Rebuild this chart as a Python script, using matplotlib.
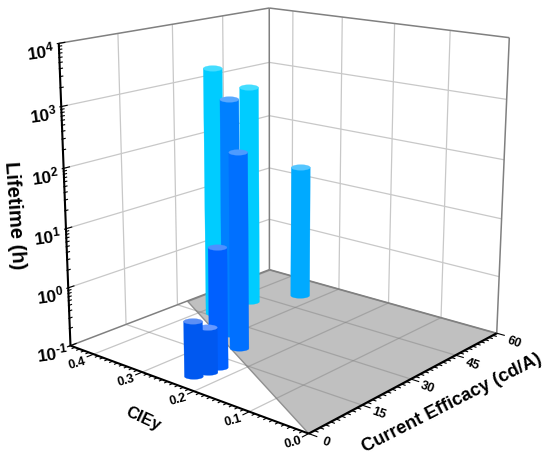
import numpy as np
import matplotlib
matplotlib.use("Agg")
import matplotlib.pyplot as plt
from mpl_toolkits.mplot3d.art3d import Poly3DCollection

# ---- data, back to front ----
ce = [51.5, 31.6, 41.6, 25.0, 20.6, 11.0, 8.0, 4.9]
cie = [0.331, 0.380, 0.374, 0.302, 0.256, 0.231, 0.230, 0.236]
life = [24.47, 2144.22, 772.34, 1030.25, 196.28, 9.61, 0.56, 0.81]
colors = ['#00AAFF','#00CCFF','#00CCFF','#0080FF','#0070FF','#0060FF','#0058F0','#0058F0']
caps = ['#55C6FF','#44DDFF','#44DDFF','#5AA8FF','#4D9BFF','#4D90FF','#6699FF','#5C8FF5']
ce_ticks = [0,15,30,45,60]
cie_ticks = [0.0,0.1,0.2,0.3,0.4]
life_ticks = [-1,0,1,2,3,4]
gray_ce = [0,60,60,33]
gray_cie = [0,0,.45,.45]

W, H = 550, 460
# camera fitted to where the box corners and ticks sit in the picture
calib_data = np.array([(0,0,-1),(60,0,-1),(0,.45,-1),(60,.45,-1),(0,.45,4),(60,.45,4),(60,0,4),
    (15,0,-1),(30,0,-1),(45,0,-1),(0,.1,-1),(0,.2,-1),(0,.3,-1),(0,.4,-1),
    (0,.45,0),(0,.45,1),(0,.45,2),(0,.45,3)], float)
calib_px = np.array([(307,434),(496,335),(71,347),(268,270),(58,44),(270,9),(509,39),
    (363,405),(412,380),(457,356),(248,413),(193,392),(143,374),(95,356),
    (68,289),(66,228),(63,170),(62,108)], float)
S = np.diag([1/60, 1/.45, 1/5, 1.0]); S[2,3] = 1/5
A = []
for d, (u,v) in zip(calib_data, calib_px):
    X = S @ np.r_[d, 1]
    A.append(np.r_[X, 0,0,0,0, -u*X])
    A.append(np.r_[0,0,0,0, X, -v*X])
P = np.linalg.svd(np.array(A))[2][-1].reshape(3,4) @ S

def to_px(x,y,z):
    h = P @ np.array([x,y,z,1.0])
    return np.array([h[0]/h[2], h[1]/h[2]])

plt.rcParams['font.family'] = ['Liberation Sans','DejaVu Sans']
plt.rcParams['font.weight'] = 'bold'
plt.rcParams['mathtext.fontset'] = 'custom'
plt.rcParams['mathtext.bf'] = 'Liberation Sans:bold'
plt.rcParams['mathtext.rm'] = 'Liberation Sans:bold'

fig = plt.figure(figsize=(W/100, H/100), dpi=100)
ax = fig.add_axes([0,0,1,1], projection='3d')
ax.set_axis_off()
ax.apply_aspect = lambda position=None: None
ax.computed_zorder = False
def get_proj():
    T = ax.transData.inverted().get_matrix()
    F = np.array([[1,0,0],[0,-1,H],[0,0,1.0]])
    Q = T @ F @ P
    return np.vstack([Q[0], Q[1], [0,0,0,1.0], Q[2]])
ax.get_proj = get_proj

def line(xs, ys, zs, c='#c8c8c8', lw=0.9, zo=1, **k):
    ax.plot(xs, ys, zs, color=c, lw=lw, zorder=zo, solid_capstyle='butt', **k)

xmax, ymax, zmin, zmax = 60, .45, -1, 4

ax.add_collection3d(Poly3DCollection([list(zip(gray_ce, gray_cie, [zmin]*4))], facecolor='#C0C0C0',
                    edgecolor='#909090', linewidth=1.0, zorder=2))
for t in ce_ticks[1:-1]:
    line([t,t],[ymax,ymax],[zmin,zmax])
    line([t,t],[0,ymax],[zmin,zmin],c='#808080',zo=3,alpha=.45)
for t in cie_ticks[1:]:
    line([xmax,xmax],[t,t],[zmin,zmax])
    line([0,xmax],[t,t],[zmin,zmin],c='#808080',zo=3,alpha=.45)
for t in life_ticks[1:-1]:
    line([0,xmax],[ymax,ymax],[t,t])
    line([xmax,xmax],[0,ymax],[t,t])
for xs,ys,zs in [([0,xmax],[ymax,ymax],[zmax,zmax]),([xmax,xmax],[0,ymax],[zmax,zmax]),
                 ([xmax,xmax],[0,0],[zmin,zmax]),([xmax,xmax],[ymax,ymax],[zmin,zmax]),
                 ([0,xmax],[ymax,ymax],[zmin,zmin]),([xmax,xmax],[0,ymax],[zmin,zmin])]:
    line(xs,ys,zs,c='#808080',lw=1.1,zo=4)
line([0,0],[ymax,ymax],[zmin,zmax],c='black',lw=1.5,zo=5)
line([0,0],[0,ymax],[zmin,zmin],c='black',lw=1.5,zo=5)
line([0,xmax],[0,0],[zmin,zmin],c='black',lw=1.5,zo=5)
for t in np.arange(0,60.01,1.5):
    L = .014 if abs(t/15-round(t/15))<1e-6 else .007
    line([t,t],[-L,0],[zmin,zmin],c='black',lw=.8,zo=5)
for t in np.arange(0,.4501,.01):
    L = 1.8 if abs(t/.1-round(t/.1))<1e-6 else .9
    line([-L,0],[t,t],[zmin,zmin],c='black',lw=.8,zo=5)
for d in range(-1,4):
    for m in range(1,10):
        z = d+np.log10(m)
        L = 1.6 if m==1 else .8
        line([-L*.3,L],[ymax,ymax],[z,z],c='black',lw=.8,zo=5)
line([-.5,1.6],[ymax,ymax],[4,4],c='black',lw=.8,zo=5)

HALF_W, HALF_H = 9.4, 2.8   # cylinder ellipse on screen, pixels
def ring(x, y, z, t, flat=False):
    p0 = to_px(x,y,z)
    J = np.c_[to_px(x+1,y,z)-p0, (to_px(x,y+.01,z)-p0)*100]
    dx, dy = np.linalg.solve(J, [HALF_W, 0.0])
    dz = 0.0 if flat else HALF_H/abs(to_px(x,y,z+.01)[1]-p0[1])*.01
    return list(zip(x+dx*np.cos(t), y+dy*np.cos(t), z+dz*np.sin(t)))

lower = np.linspace(np.pi, 2*np.pi, 25)
full = np.linspace(0, 2*np.pi, 49)
for i,(x,y,L) in enumerate(zip(ce,cie,life)):
    z = np.log10(L)
    side = ring(x,y,zmin,lower) + ring(x,y,z,lower[::-1],flat=True)
    ax.add_collection3d(Poly3DCollection([side], facecolor=colors[i], edgecolor=colors[i], linewidth=.2, zorder=10+2*i))
    ax.add_collection3d(Poly3DCollection([ring(x,y,z,full)], facecolor=caps[i], edgecolor=caps[i], linewidth=.2, zorder=11+2*i))

def label(px, py, s, size, rot):
    fig.text(px/W, 1-py/H, s, fontsize=size, rotation=rot, rotation_mode='anchor', ha='center', va='center', fontweight='bold')

for t in life_ticks:
    u,v = to_px(0,ymax,t)
    s = r'$\mathbf{10^{\text{-}1}}$' if t < 0 else r'$\mathbf{10^{%d}}$'%t
    label(u-18, v+7, s, 12.5, 8)
for t in ce_ticks:
    u,v = to_px(t,0,zmin)
    label(u+17, v+8, str(t), 9, -20)
for t in cie_ticks:
    u,v = to_px(0,t,zmin)
    label(u-16, v+8, f'{t:.1f}', 9, 16)
label(452,403,'Current Efficacy (cd/A)',13.2,27)
label(143,419,'CIEy',12,-25)
label(14,215,'Lifetime (h)',14.5,-86)

fig.savefig('out.png', dpi=100)
